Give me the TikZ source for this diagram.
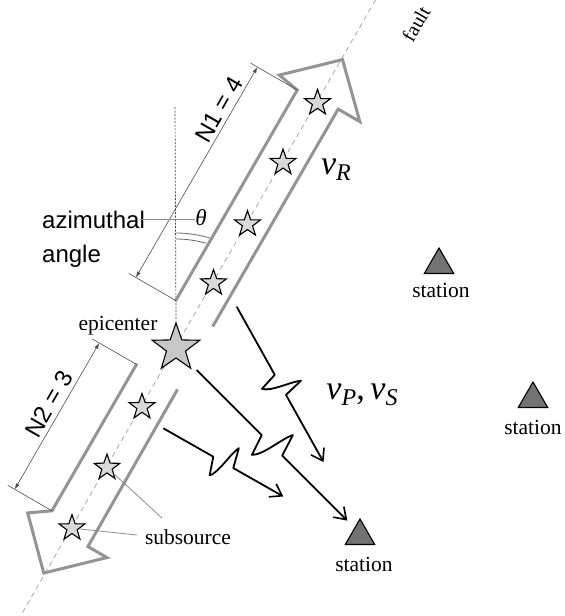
\documentclass[tikz,border=0pt]{standalone}
\usepackage{fontspec}
\setmainfont{Liberation Serif}
\setsansfont{Liberation Sans}
\usetikzlibrary{shapes.geometric,arrows.meta,calc}
\newcommand{\vsub}[1]{{\fontsize{34}{40}\selectfont\itshape v}\raisebox{-6pt}{\fontsize{24}{28}\selectfont\itshape #1}}
\begin{document}
\begin{tikzpicture}[x=1pt,y=-1pt,
  arrowout/.style={draw=black!42, line width=3pt, line join=miter},
  faultline/.style={draw=black!35, line width=0.8pt, dash pattern=on 5pt off 4pt},
  vert/.style={draw=black!75, line width=0.7pt, dash pattern=on 2pt off 1.5pt},
  substar/.style={star, star points=5, star point ratio=2.5, minimum size=27pt, inner sep=0pt, draw=black, line width=1.1pt, fill=black!15},
  epistar/.style={substar, minimum size=50pt, fill=black!22},
  dimline/.style={draw=black!70, line width=0.6pt},
  dimarrow/.style={dimline, {Latex[length=6pt,width=4pt]}-{Latex[length=6pt,width=4pt]}},
  serifl/.style={font=\fontsize{21.5}{25}\selectfont, inner sep=0pt},
  sansl/.style={font=\sffamily\fontsize{24}{28}\selectfont, inner sep=0pt},
  mathl/.style={inner sep=0pt},
  stationtri/.style={regular polygon, regular polygon sides=3, minimum size=34pt, inner sep=0pt, draw=black, line width=1.1pt, fill=black!55},
  boltline/.style={draw=black, line width=1.8pt, line join=round},
  bolttip/.style={-{Straight Barb[length=11pt,width=15pt,line width=1.6pt]}},
  lead/.style={draw=black!45, line width=0.8pt},
  arcl/.style={draw=black!60, line width=0.8pt},
]
\useasboundingbox (0,0) rectangle (565,616);

% fault line
\draw[faultline] (375.5,0) -- (20.5,616);
\node[serifl, font=\fontsize{20}{24}\selectfont, rotate=60] (fault) at (416,24) {fault};

% epicenter
\node[epistar] (epi) at (176,348) {};
\draw[vert] (175,107) -- (epi.north);

% angle arcs
\draw[arcl] (176,348) ++(0,-115) arc[start angle=-90, end angle=-72, radius=115];
\draw[arcl] (176,348) ++(0,-109) arc[start angle=-90, end angle=-74, radius=109];

\begin{scope}[shift={(176,348)}, rotate=60]
  % upper rupture arrow
  \draw[arrowout] (40,-24) -- (284,-24) -- (288,-47) -- (333,0) -- (288,46) -- (288,21) -- (37,21);
  % lower rupture arrow
  \draw[arrowout] (-33,-26) -- (-203,-26) -- (-217,-46) -- (-261,-2) -- (-216,45) -- (-216,23) -- (-35,22);
  % subsources
  \node[substar] (u1) at (75,0) {};
  \node[substar] (u2) at (143,0) {};
  \node[substar] (u3) at (214,0) {};
  \node[substar] (u4) at (283,0) {};
  \node[substar] (l1) at (-68,0) {};
  \node[substar] (l2) at (-138,0) {};
  \node[substar] (l3) at (-208,0) {};
  % dimension N1
  \draw[dimline] (41,-24) -- (41,-78);
  \draw[dimline] (284,-24) -- (284,-78);
  \draw[dimarrow] (41,-70) -- (284,-70);
  \node[sansl, rotate=60] (n1) at (228,-82) {N1 = 4};
  % dimension N2
  \draw[dimline] (-34,-26) -- (-34,-77);
  \draw[dimline] (-203,-26) -- (-203,-77);
  \draw[dimarrow] (-34,-69) -- (-203,-69);
  \node[sansl, rotate=60] (n2) at (-112,-82) {N2 = 3};
\end{scope}

% azimuthal angle
\node[sansl, anchor=base west] (az) at (42,228) {azimuthal};
\node[sansl, anchor=base west] (ang) at (42,262) {angle};
\node[inner sep=0pt, font=\fontsize{23}{27}\selectfont\itshape] (th) at (201,218) {θ};
\draw[lead] ([xshift=-5pt]az.east) -- (th.west |- az.east);

% labels
\node[serifl] (epil) at (118,326) {epicenter};
\node[serifl] (ssl) at (188,537) {subsource};
\coordinate (ss1) at (137,535);
\coordinate (ss2) at (162,518);
\draw[lead] (l3) -- (ss1);
\draw[lead] (l2) -- (ss2);

\node[mathl] (vr) at (336,170) {\vsub{R}};
\node[mathl] (vps) at (362,395) {\vsub{P}{\fontsize{34}{40}\selectfont,\,}\vsub{S}};

% stations
\node[stationtri] (st1) at (439,265) {};
\node[serifl] (st1l) at (441,290) {station};
\node[stationtri] (st2) at (533,399) {};
\node[serifl] (st2l) at (533,427) {station};
\node[stationtri] (st3) at (360,536) {};
\node[serifl] (st3l) at (364,564) {station};

% seismic rays (bolts)
\begin{scope}[shift={(236.7,306.7)}, rotate=-60.8]
  \coordinate (b1s) at (0,0); \coordinate (b1e) at (178,0);
  \draw[boltline, bolttip] (b1s) -- (78,0) -- (84,18) .. controls (91,12) and (92,-12) .. (96,-20) -- (101,0) -- (b1e);
\end{scope}
\begin{scope}[shift={(196.7,370)}, rotate=-45]
  \coordinate (b2s) at (0,0); \coordinate (b2e) at (213,0);
  \draw[boltline, bolttip] (b2s) -- (92,0) -- (99,21) .. controls (107,14) and (109,-13) .. (114,-22) -- (121,0) -- (b2e);
\end{scope}
\begin{scope}[shift={(163.3,428.3)}, rotate=-29.6]
  \coordinate (b3s) at (0,0); \coordinate (b3e) at (138,0);
  \draw[boltline, bolttip] (b3s) -- (57.5,0) -- (63.5,18) .. controls (70,12) and (71,-12) .. (75.5,-20) -- (80.5,0) -- (b3e);
\end{scope}
\end{tikzpicture}
\end{document}
